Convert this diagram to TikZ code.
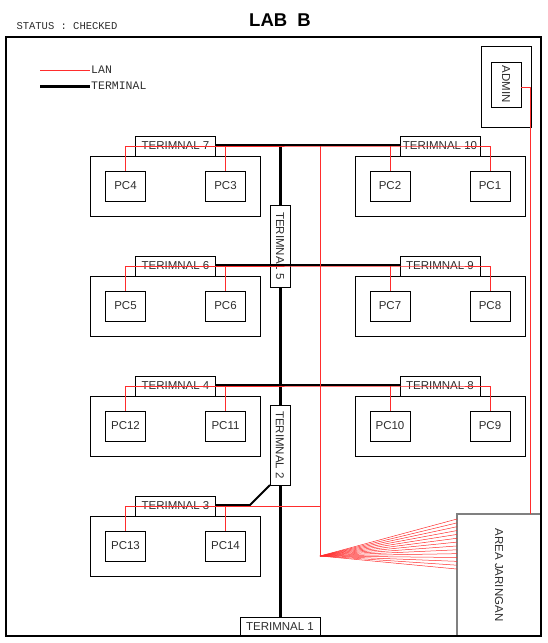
\documentclass[tikz,border=0pt]{standalone}
\usepackage{fontspec}
\setmainfont{Liberation Sans}
\newfontfamily\labmono{Liberation Mono}
\usetikzlibrary{positioning}
\definecolor{lanred}{RGB}{255,45,45}
\definecolor{ink}{RGB}{45,45,45}
\tikzset{
  box/.style={draw, line width=1pt, inner sep=0pt, outer sep=0pt,
    text=ink, font=\fontsize{11.5}{13}\selectfont},
  pc/.style={box, minimum width=40pt, minimum height=30pt},
  term/.style={box, minimum width=80pt, minimum height=20pt},
  vterm/.style={term, rotate=-90},
  grp/.style={draw, line width=1pt, outer sep=0pt, minimum width=170pt, minimum height=60pt},
  lan/.style={draw=lanred, line width=0.8pt},
  trunk/.style={line width=3pt},
  link/.style={line width=2pt},
  legend/.style={anchor=west, inner sep=1pt, text=ink, font=\labmono\fontsize{11.5}{13}\selectfont}
}

\begin{document}
\begin{tikzpicture}[x=1pt,y=-1pt]
\useasboundingbox (0,0) rectangle (547,643);

\node[font=\bfseries\fontsize{18.5}{20}\selectfont] (title) at (280,20) {LAB\hspace{0.55em}B};
\node[anchor=west, text=ink, font=\labmono\fontsize{10.5}{12}\selectfont] (status) at (13,26) {STATUS : CHECKED};

% legend
\node[legend] (lanlbl) at (90,70) {LAN};
\node[legend] (termlbl) at (90,86) {TERMINAL};
\coordinate (lanfrom) at (40,70);
\coordinate (termfrom) at (40,86);
\draw[lan] (lanfrom) -- (lanlbl.west);
\draw[trunk] (termfrom) -- (termlbl.west);

% area jaringan + admin
\node[box, draw=gray, line width=1.6pt, rotate=-90, minimum width=122pt, minimum height=84pt] (area) at (499,575) {AREA JARINGAN};
\node[draw, line width=1pt, minimum width=50pt, minimum height=81pt] (adminroom) at (506,86.5) {};
\node[box, rotate=-90, minimum width=45pt, minimum height=30pt] (admin) at (506,84.5) {ADMIN};

% rows of pc
\node[grp] (g7) at (175.5,186) {};
\node[grp] (g10) at (440,186) {};
\node[grp] (g6) at (175.5,306) {};
\node[grp] (g9) at (440,306) {};
\node[grp] (g4) at (175.5,426) {};
\node[grp] (g8) at (440,426) {};
\node[grp] (g3) at (175.5,546) {};

\node[term, above=0pt of g7] (t7) {TERIMNAL 7};
\node[term, above=0pt of g10] (t10) {TERIMNAL 10};
\node[term, above=0pt of g6] (t6) {TERIMNAL 6};
\node[term, above=0pt of g9] (t9) {TERIMNAL 9};
\node[term, above=0pt of g4] (t4) {TERIMNAL 4};
\node[term, above=0pt of g8] (t8) {TERIMNAL 8};
\node[term, above=0pt of g3] (t3) {TERIMNAL 3};

\node[pc] (pc4) at ([xshift=-50pt]g7.center) {PC4};
\node[pc] (pc3) at ([xshift=50pt]g7.center) {PC3};
\node[pc] (pc2) at ([xshift=-50pt]g10.center) {PC2};
\node[pc] (pc1) at ([xshift=50pt]g10.center) {PC1};
\node[pc] (pc5) at ([xshift=-50pt]g6.center) {PC5};
\node[pc] (pc6) at ([xshift=50pt]g6.center) {PC6};
\node[pc] (pc7) at ([xshift=-50pt]g9.center) {PC7};
\node[pc] (pc8) at ([xshift=50pt]g9.center) {PC8};
\node[pc] (pc12) at ([xshift=-50pt]g4.center) {PC12};
\node[pc] (pc11) at ([xshift=50pt]g4.center) {PC11};
\node[pc] (pc10) at ([xshift=-50pt]g8.center) {PC10};
\node[pc] (pc9) at ([xshift=50pt]g8.center) {PC9};
\node[pc] (pc13) at ([xshift=-50pt]g3.center) {PC13};
\node[pc] (pc14) at ([xshift=50pt]g3.center) {PC14};

% backbone terminals
\node[vterm, minimum width=82pt] (t5) at (280,246) {TERIMNAL 5};
\node[vterm] (t2) at (280,445) {TERIMNAL 2};
\node[term, minimum height=19pt] (t1) at (280,626.5) {TERIMNAL 1};

\coordinate (top) at ([yshift=1pt]t7.east -| t5);
\coordinate (bend) at (250,505);
\coordinate (fan) at (320,556);
\coordinate (adm) at (530,514);
\coordinate (port) at (area.south west);

% terminal cable
\draw[link] ([yshift=1pt]t7.east) -- ([yshift=1pt]t10.west);
\draw[link] ([yshift=1pt]t6.east) -- ([yshift=1pt]t9.west);
\draw[link] ([yshift=1pt]t4.east) -- ([yshift=1pt]t8.west);
\draw[trunk] (top) -- (t5.west);
\draw[trunk] (t5.east) -- (t2.west);
\draw[trunk] (t2.east) -- (t1.north);
\draw[link] ([yshift=1pt]t3.east) -- (bend) -- (t2.south east);

% lan
\draw[lan] (pc4.north) |- (t10.center) -| (pc1.north);
\draw[lan] (pc3.north) -- (pc3 |- t7.center);
\draw[lan] (pc2.north) -- (pc2 |- t10.center);
\draw[lan] (pc5.north) |- (t9.center) -| (pc8.north);
\draw[lan] (pc6.north) -- (pc6 |- t6.center);
\draw[lan] (pc7.north) -- (pc7 |- t9.center);
\draw[lan] (pc12.north) |- (t8.center) -| (pc9.north);
\draw[lan] (pc11.north) -- (pc11 |- t4.center);
\draw[lan] (pc10.north) -- (pc10 |- t8.center);
\draw[lan] (pc13.north) |- (fan |- t3.center);
\draw[lan] (pc14.north) -- (pc14 |- t3.center);
\draw[lan] (fan |- t7.center) -- (fan);
\draw[lan] ([yshift=-2.5pt]admin.north) -| (adm);
\foreach \i in {0,...,13}
  \draw[lan, line width=0.5pt] (fan) -- ([yshift={-5pt-\i*3.85pt}]port);

\draw[line width=1.2pt] (6,37) rectangle (541,636);
\end{tikzpicture}
\end{document}
